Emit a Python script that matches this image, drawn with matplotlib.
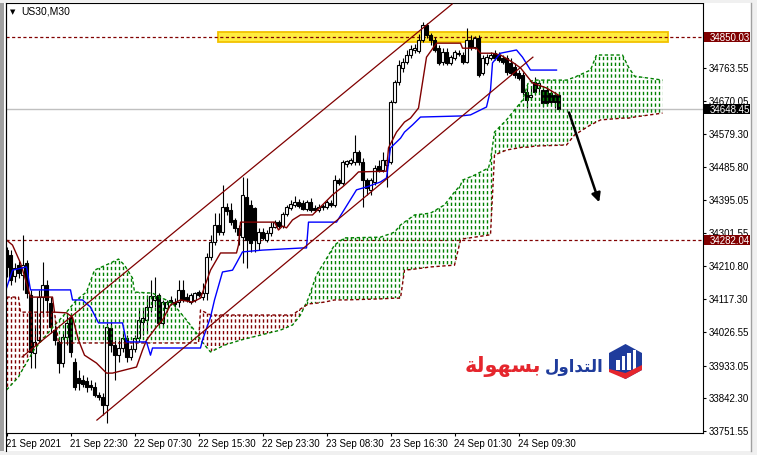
import numpy as np
import matplotlib.pyplot as plt
import matplotlib.transforms as mtransforms
from matplotlib.patches import Rectangle, Polygon, PathPatch
from matplotlib.path import Path

# ---- US30, M30 candles (bar 0 = first visible bar) ----
opens = [34255, 34241, 34183, 34213, 34186, 34219, 34130, 33968, 34004, 34124,
         34158, 34107, 34032, 33999, 33940, 34013, 34066, 33943, 33898, 33893,
         33890, 33879, 33873, 33851, 33845, 33823, 34038, 33990, 33962, 33982,
         34010, 33957, 33979, 34010, 34054, 34060, 34096, 34116, 34130, 34052,
         34094, 34116, 34110, 34110, 34144, 34124, 34110, 34116, 34138, 34124,
         34135, 34236, 34278, 34325, 34305, 34375, 34367, 34339, 34317, 34291,
         34403, 34381, 34372, 34275, 34305, 34283, 34303, 34319, 34333, 34322,
         34356, 34372, 34381, 34389, 34386, 34370, 34389, 34372, 34367, 34375,
         34375, 34386, 34381, 34450, 34442, 34495, 34498, 34501, 34528, 34501,
         34450, 34423, 34445, 34489, 34478, 34492, 34501, 34668, 34724, 34763,
         34779, 34799, 34813, 34810, 34841, 34882, 34855, 34841, 34818, 34779,
         34807, 34777, 34790, 34804, 34799, 34779, 34841, 34821, 34846, 34749,
         34777, 34790, 34804, 34799, 34790, 34790, 34777, 34765, 34749, 34743,
         34696, 34682, 34724, 34707, 34701, 34701, 34693, 34687, 34687]
highs = [34264, 34255, 34219, 34225, 34297, 34227, 34144, 34041, 34144, 34222,
         34172, 34124, 34046, 34004, 34027, 34074, 34080, 33954, 33921, 33907,
         33901, 33893, 33887, 33859, 33857, 34052, 34054, 34004, 34004, 34024,
         34018, 33990, 34018, 34094, 34088, 34130, 34172, 34180, 34135, 34116,
         34116, 34127, 34121, 34172, 34172, 34135, 34135, 34138, 34144, 34163,
         34247, 34297, 34358, 34358, 34436, 34386, 34386, 34344, 34325, 34459,
         34456, 34395, 34375, 34317, 34317, 34311, 34333, 34339, 34339, 34361,
         34381, 34395, 34406, 34397, 34395, 34395, 34400, 34381, 34383, 34383,
         34395, 34395, 34464, 34456, 34506, 34506, 34512, 34576, 34534, 34512,
         34456, 34456, 34492, 34506, 34528, 34514, 34673, 34729, 34785, 34790,
         34813, 34827, 34830, 34857, 34891, 34888, 34860, 34849, 34827, 34818,
         34818, 34799, 34813, 34813, 34807, 34874, 34855, 34852, 34855, 34799,
         34802, 34807, 34813, 34807, 34799, 34799, 34790, 34777, 34757, 34751,
         34715, 34707, 34737, 34724, 34712, 34710, 34701, 34696, 34693]
lows = [34180, 34158, 34166, 34177, 34144, 34121, 33926, 33926, 33999, 34068,
        34080, 34024, 33990, 33912, 33929, 33990, 33957, 33865, 33865, 33873,
        33859, 33865, 33845, 33837, 33795, 33773, 33971, 33893, 33943, 33971,
        33943, 33949, 33971, 33999, 34018, 34027, 34082, 34096, 34046, 34043,
        34082, 34102, 34096, 34096, 34110, 34110, 34105, 34110, 34124, 34116,
        34116, 34227, 34269, 34297, 34297, 34353, 34325, 34305, 34269, 34219,
        34205, 34250, 34250, 34255, 34283, 34278, 34294, 34317, 34317, 34317,
        34350, 34367, 34375, 34372, 34367, 34364, 34361, 34361, 34361, 34367,
        34370, 34375, 34375, 34436, 34436, 34487, 34492, 34492, 34492, 34375,
        34409, 34409, 34436, 34473, 34473, 34431, 34495, 34665, 34715, 34751,
        34774, 34790, 34804, 34804, 34835, 34846, 34827, 34807, 34771, 34771,
        34771, 34771, 34785, 34796, 34774, 34777, 34813, 34816, 34737, 34743,
        34771, 34785, 34785, 34779, 34774, 34743, 34743, 34735, 34729, 34687,
        34651, 34673, 34687, 34696, 34654, 34659, 34662, 34651, 34646]
closes = [34208, 34172, 34205, 34191, 34213, 34135, 33971, 33999, 34124, 34158,
          34116, 34041, 34004, 33940, 34013, 34052, 33971, 33873, 33884, 33882,
          33873, 33873, 33851, 33845, 33823, 34041, 33990, 33962, 33982, 34010,
          33957, 33979, 34010, 34060, 34066, 34096, 34127, 34127, 34052, 34110,
          34110, 34110, 34105, 34144, 34116, 34116, 34130, 34135, 34130, 34135,
          34236, 34278, 34325, 34305, 34375, 34364, 34333, 34317, 34297, 34409,
          34283, 34275, 34283, 34305, 34289, 34303, 34319, 34333, 34322, 34356,
          34375, 34383, 34389, 34378, 34370, 34389, 34367, 34367, 34375, 34378,
          34389, 34381, 34450, 34442, 34501, 34503, 34506, 34528, 34501, 34450,
          34428, 34450, 34484, 34478, 34506, 34506, 34668, 34724, 34771, 34779,
          34799, 34816, 34818, 34841, 34882, 34855, 34841, 34813, 34777, 34807,
          34777, 34793, 34807, 34802, 34779, 34841, 34821, 34846, 34743, 34790,
          34793, 34799, 34790, 34785, 34779, 34751, 34749, 34743, 34735, 34696,
          34673, 34687, 34696, 34721, 34665, 34665, 34668, 34668, 34648.45]

# ---- Ichimoku lines (breakpoints: bar index, price) ----
tenkan_x = [0, 1.5, 3.5, 5, 6, 11.5, 12, 15, 16.5, 18, 19.5, 22.5, 25, 26.5, 32.5,
            34, 35, 37.5, 39, 41, 43.5, 46.5, 48.5, 49.5, 51, 53.5, 57.5, 58, 58.5, 67,
            68, 69, 70, 71.5, 73.5, 76.5, 81.5, 84, 86.5, 88, 95, 95.5, 97.5, 99.5, 101,
            103, 105, 107.5, 113.5, 114, 117.5, 118.5, 121.5, 123.5, 126.5, 128.5, 131.5, 135, 138]
tenkan_y = [34283, 34269, 34219, 34163, 34124, 34124, 34082, 34080, 34068, 34004, 33962, 33940, 33912, 33912, 33929,
            33976, 34004, 34041, 34060, 34102, 34116, 34110, 34121, 34152, 34199, 34247, 34247, 34269, 34333, 34333,
            34311, 34322, 34317, 34339, 34353, 34353, 34409, 34431, 34456, 34473, 34475, 34540, 34584, 34612, 34623,
            34651, 34793, 34832, 34832, 34818, 34818, 34804, 34804, 34799, 34779, 34763, 34721, 34707, 34687]
kijun_x = [0, 1.5, 5, 6, 16, 16.5, 19, 21, 23, 29, 30, 35, 36, 36.5, 48.5, 49, 51, 52, 54, 56.5,
           57.5, 59, 64, 74, 75, 75.5, 82.5, 87.5, 90, 93.5, 95, 96, 98.5, 99.5, 101.5, 103.5,
           113.5, 116, 120, 121, 121.5, 123.5, 127.5, 129, 131, 137.5]
kijun_y = [34149, 34199, 34208, 34144, 34144, 34116, 34116, 34096, 34052, 34052, 33999, 33999, 33962, 33982, 33982,
           34004, 34068, 34116, 34194, 34199, 34219, 34250, 34255, 34261, 34261, 34333, 34333, 34423, 34431, 34445,
           34456, 34540, 34567, 34584, 34604, 34626, 34629, 34632, 34654, 34701, 34777, 34804, 34813, 34793, 34757,
           34757]
cloud_x = [0, 3, 3.5, 7, 11, 12, 13, 15, 17.5, 20, 22, 26, 28, 29.5, 31.5, 32, 36.5, 41.5, 45, 47.5,
           48, 48.5, 51, 54.5, 58.5, 63.5, 68.5, 71.5, 73.5, 75.5, 77.5, 79.5, 82, 84.5, 93.5, 97, 98.5,
           99.5, 102, 106, 109.5, 112, 113.5, 114, 117, 120.5, 121, 122, 125, 129, 130.5, 132, 140, 142,
           146, 147.5, 148.5, 154, 155.5, 157, 164]
span_a = [33865, 33901, 33912, 33979, 34032, 34046, 34057, 34082, 34116, 34138, 34199, 34219, 34230, 34213,
          34177, 34138, 34135, 34107, 34060, 34024, 34013, 34004, 33971, 33990, 34004, 34018, 34032, 34046,
          34074, 34121, 34186, 34222, 34269, 34289, 34291, 34305, 34325, 34333, 34353, 34358, 34381, 34417,
          34436, 34450, 34464, 34484, 34506, 34584, 34618, 34673, 34724, 34729, 34729, 34737, 34757, 34799,
          34799, 34799, 34765, 34740, 34729]
span_b = [34124, 34124, 34082, 34082, 34082, 34082, 33996, 33996, 33996, 33996, 33996, 33996, 33996, 33996,
          33996, 33996, 33996, 33996, 33996, 33996, 33996, 34088, 34074, 34074, 34074, 34074, 34074, 34074,
          34091, 34105, 34107, 34110, 34116, 34116, 34119, 34121, 34121, 34199, 34202, 34208, 34211, 34213,
          34283, 34286, 34291, 34297, 34297, 34520, 34534, 34542, 34542, 34545, 34548, 34576, 34604, 34612,
          34618, 34623, 34623, 34626, 34637]

# ---- drawn objects ----
channel_up_x, channel_up_y = [3.9, 111.4], [33957, 34941]
channel_dn_x, channel_dn_y = [22.6, 131.6], [33781, 34793]
resistance = 34850.03
support = 34282.04
bid = 34648.45
zone_x, zone_y = [52.9, 165.4], [34835, 34863]
arrow_x, arrow_y = [140.4, 148.4], [34646, 34381]

ytick_vals = [34763.55, 34670.05, 34579.30, 34485.80, 34395.05, 34301.55,
              34210.80, 34117.30, 34026.55, 33933.05, 33842.30, 33751.55]
xtick_pos = [0, 16, 32, 48, 64, 80, 96, 112, 128]
xtick_labels = ['21 Sep 2021', '21 Sep 22:30', '22 Sep 07:30', '22 Sep 15:30', '22 Sep 23:30',
                '23 Sep 08:30', '23 Sep 16:30', '24 Sep 01:30', '24 Sep 09:30']

MAROON = '#800000'
GREEN = '#008000'
DOTS = (0, (2.4, 1.8))

plt.rcParams['font.family'] = ['Liberation Sans', 'DejaVu Sans']

W, H = 757, 455
fig = plt.figure(figsize=(W / 100, H / 100), dpi=100, facecolor='white')

# window frame
fig.add_artist(Rectangle((0, 0), 4 / W, 1, transform=fig.transFigure, facecolor='#a0a0a0', edgecolor='none'))
fig.add_artist(Rectangle((0, 1 - 3 / H), 1, 3 / H, transform=fig.transFigure, facecolor='#f0f0f0', edgecolor='none'))
fig.add_artist(Rectangle((0, 0), 1, 4 / H, transform=fig.transFigure, facecolor='#f0f0f0', edgecolor='none'))
fig.add_artist(Rectangle((751 / W, 0), 6 / W, 1, transform=fig.transFigure, facecolor='#f0f0f0', edgecolor='none'))
fig.add_artist(plt.Line2D([751 / W, 751 / W], [4 / H, 1 - 3 / H], transform=fig.transFigure, color='#a0a0a0', lw=1))
fig.add_artist(plt.Line2D([5.5 / W, 5.5 / W], [4 / H, 1 - 3 / H], transform=fig.transFigure, color='black', lw=0.8))

ax = fig.add_axes([6 / W, 22 / H, 697 / W, 430 / H])
ax.set_xlim(-0.125, 174.125)
ax.set_ylim(33745, 34944)
for s in ax.spines.values():
    s.set_linewidth(0.8)

ax.yaxis.tick_right()
ax.set_yticks(ytick_vals)
ax.set_yticklabels([f'{v:.2f}' for v in ytick_vals])
ax.set_xticks(xtick_pos)
ax.set_xticklabels(xtick_labels, ha='left')
ax.tick_params(axis='both', direction='out', length=2.2, width=0.8, pad=2, labelsize=7, colors='black')

# zone and levels
ax.add_patch(Rectangle((zone_x[0], zone_y[0]), zone_x[1] - zone_x[0], zone_y[1] - zone_y[0],
                       facecolor='#ffec40', edgecolor='#f2c200', lw=1.3, zorder=1))
ax.axhline(bid, color='#c0c0c0', lw=1, zorder=1.2)
for lvl in (resistance, support):
    ax.axhline(lvl, color=MAROON, lw=0.9, ls=(0, (2.5, 2)), zorder=1.6)

# candles
idx = np.arange(len(closes))
o, h, l, c = map(np.array, (opens, highs, lows, closes))
up = c >= o
ax.vlines(idx, l, h, color='black', lw=0.8, zorder=2)
ax.bar(idx[up], c[up] - o[up], bottom=o[up], width=0.6, facecolor='white', edgecolor='black', lw=0.8, zorder=2.1)
ax.bar(idx[~up], o[~up] - c[~up], bottom=c[~up], width=0.6, facecolor='black', edgecolor='black', lw=0.8, zorder=2.1)

# kumo: dotted vertical hatch per bar, clipped to the cloud
ca, cb = np.array(span_a), np.array(span_b)
hatch_bars = np.arange(0, int(cloud_x[-1]) + 1)
for cond, col in ((ca >= cb, GREEN), (ca < cb, MAROON)):
    poly = ax.fill_between(cloud_x, ca, cb, where=cond, interpolate=True, facecolor='none', edgecolor='none')
    paths = poly.get_paths()
    if not paths:
        continue
    clip = PathPatch(Path.make_compound_path(*paths), transform=ax.transData, facecolor='none', edgecolor='none')
    ax.add_patch(clip)
    vl = ax.vlines(hatch_bars, 33745, 34944, colors=col, lw=1.0, linestyles=DOTS, zorder=3)
    vl.set_clip_path(clip)
ax.plot(cloud_x, span_a, color=GREEN, lw=1.0, ls=DOTS, zorder=3.1)
ax.plot(cloud_x, span_b, color=MAROON, lw=1.0, ls=DOTS, zorder=3.1)

ax.plot(tenkan_x, tenkan_y, color=MAROON, lw=1, zorder=3.5)
ax.plot(kijun_x, kijun_y, color='#0000ff', lw=1, zorder=3.5)
ax.plot(channel_up_x, channel_up_y, color=MAROON, lw=0.9, zorder=3.5)
ax.plot(channel_dn_x, channel_dn_y, color=MAROON, lw=0.9, zorder=3.5)

ax.annotate('', xy=(arrow_x[1], arrow_y[1]), xytext=(arrow_x[0], arrow_y[0]),
            arrowprops=dict(arrowstyle='-|>', color='black', lw=1.8, mutation_scale=13), zorder=4)

# price tags on the axis
trans = mtransforms.blended_transform_factory(ax.transAxes, ax.transData)
def price_tag(value, color):
    half = 5 * 2.788
    ax.add_patch(Rectangle((1.0015, value - half), 0.066, 2 * half, transform=trans,
                           facecolor=color, edgecolor='none', clip_on=False, zorder=6))
    ax.text(1.0095, value, f'{value:.2f}', transform=trans, color='white', fontsize=7,
            va='center_baseline', ha='left', clip_on=False, zorder=7)

price_tag(resistance, MAROON)
price_tag(bid, 'black')
price_tag(support, MAROON)

# symbol caption
fig.text(10 / W, 1 - 12 / H, '\u25bc', fontsize=5, va='center', ha='left', family='DejaVu Sans')
fig.text(21 / W, 1 - 12 / H, 'US30,M30', fontsize=7.5, va='center', ha='left')

# watermark logo: Arabic words written in presentation forms, visual order
word_red = '\uFE94\uFEDF\uFEEE\uFEEC\uFEB4\uFE91'        # بسهولة
word_blue = '\uFEDD\uFEED\uFE8D\uFEAA\uFE98\uFEDF\uFE8D'  # التداول
fig.text(541 / W, 1 - 372 / H, word_red, color='#e5262d', fontsize=15, fontweight='bold',
         family='DejaVu Sans', va='baseline', ha='right')
fig.text(545 / W, 1 - 372 / H, word_blue, color='#1f3c9c', fontsize=12, fontweight='bold',
         family='DejaVu Sans', va='baseline', ha='left')

lax = fig.add_axes([607 / W, (455 - 380) / H, 37 / W, 38 / H])
lax.set_xlim(0, 37)
lax.set_ylim(38, 0)
lax.axis('off')
lax.add_patch(Polygon([(18.5, 2), (35, 11), (35, 28), (18.5, 37), (2, 28), (2, 11)], closed=True,
                      facecolor='#1f3c9c', edgecolor='none'))
for bx, top in ((9, 18), (14.5, 14), (20, 11), (25.5, 8)):
    lax.add_patch(Rectangle((bx, top), 3.5, 28 - top, facecolor='white', edgecolor='none'))
lax.add_patch(Polygon([(2, 27), (18.5, 31), (35, 23), (35, 28), (18.5, 37), (2, 30)], closed=True,
                      facecolor='#e5262d', edgecolor='none'))

fig.savefig('out.png', dpi=100, facecolor='white')
